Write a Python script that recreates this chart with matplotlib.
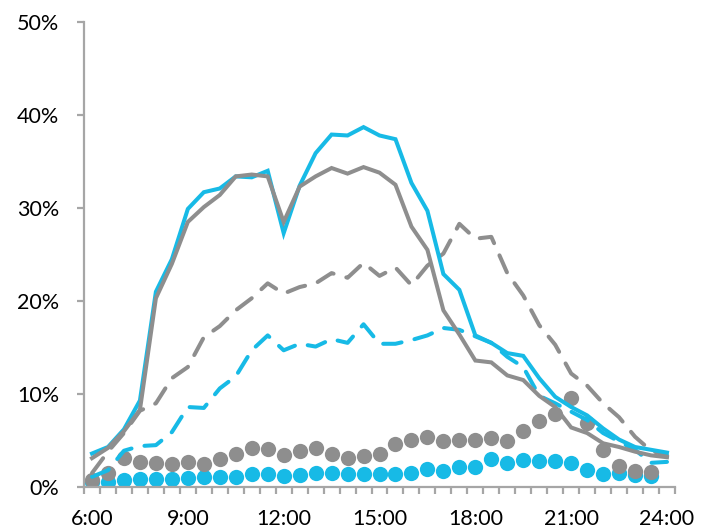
import numpy as np
import matplotlib
matplotlib.use("Agg")
import matplotlib.pyplot as plt

plt.rcParams['font.family'] = ['Lato', 'DejaVu Sans']

# half-hour slots 6:00 .. 24:00
slots = np.arange(37)
tick_pos = [0, 6, 12, 18, 24, 30, 36]
tick_labels = ['6:00', '9:00', '12:00', '15:00', '18:00', '21:00', '24:00']

blue_solid = [3.6, 4.3, 6.2, 9.3, 21.0, 24.5, 29.9, 31.7, 32.1, 33.4, 33.3, 34.0, 27.3,
              32.4, 35.9, 37.9, 37.8, 38.7, 37.8, 37.4, 32.7, 29.7, 22.9, 21.2, 16.3,
              15.5, 14.4, 14.1, 11.7, 9.7, 8.6, 7.7, 6.3, 5.1, 4.3, 4.0, 3.7]
gray_solid = [3.1, 4.2, 6.0, 8.3, 20.3, 24.0, 28.5, 30.1, 31.4, 33.4, 33.6, 33.4, 28.5,
              32.3, 33.4, 34.3, 33.7, 34.4, 33.8, 32.5, 28.0, 25.5, 19.0, 16.4, 13.6,
              13.4, 12.0, 11.5, 9.8, 8.6, 6.4, 5.8, 4.7, 4.3, 3.8, 3.4, 3.2]
gray_dash = [1.5, 3.8, 5.8, 8.2, 9.0, 11.7, 12.9, 16.1, 17.3, 19.0, 20.3, 21.9, 20.8,
             21.5, 21.9, 23.0, 22.5, 24.1, 22.7, 23.6, 21.7, 23.8, 25.1, 28.3, 26.7,
             26.9, 23.0, 20.6, 17.4, 15.3, 12.2, 10.9, 9.0, 7.5, 5.4, 3.9, 3.4]
blue_dash = [1.1, 1.8, 3.9, 4.4, 4.5, 5.9, 8.6, 8.5, 10.6, 11.9, 14.7, 16.3, 14.7,
             15.4, 15.1, 15.9, 15.5, 17.5, 15.4, 15.4, 15.8, 16.3, 17.1, 16.9, 16.2,
             15.5, 14.0, 12.9, 9.8, 9.0, 8.1, 7.2, 5.8, 4.9, 4.0, 2.6, 2.7]
gray_dots = [0.7, 1.5, 3.1, 2.7, 2.6, 2.5, 2.7, 2.5, 3.0, 3.5, 4.2, 4.1, 3.4, 3.9, 4.2,
             3.6, 3.1, 3.3, 3.6, 4.6, 5.0, 5.4, 4.9, 5.1, 5.0, 5.3, 4.9, 6.0, 7.1, 7.9,
             9.6, 6.9, 4.0, 2.3, 1.7, 1.6, np.nan]
blue_dots = [0.5, 0.5, 0.7, 0.9, 0.9, 0.9, 1.0, 1.1, 1.1, 1.1, 1.4, 1.4, 1.2, 1.3, 1.5,
             1.5, 1.4, 1.4, 1.4, 1.4, 1.5, 1.9, 1.7, 2.2, 2.2, 3.0, 2.6, 2.9, 2.8, 2.8,
             2.6, 1.8, 1.4, 1.5, 1.3, 1.2, np.nan]

blue = '#17BAE6'
gray = '#8E8E8E'
lw = 2.9

fig = plt.figure(figsize=(7.02, 5.32), dpi=100)
ax = fig.add_axes([0.1197, 0.0846, 0.8418, 0.874])

ax.plot(slots, blue_dots, ls='none', marker='o', ms=11, color=blue, mew=0)
ax.plot(slots, gray_dots, ls='none', marker='o', ms=11, color=gray, mew=0)
ax.plot(slots, blue_dash, color=blue, lw=lw, dashes=(4.6, 3.3), dash_capstyle='round')
ax.plot(slots, gray_dash, color=gray, lw=lw, dashes=(4.6, 3.3), dash_capstyle='round')
ax.plot(slots, blue_solid, color=blue, lw=lw, solid_joinstyle='miter')
ax.plot(slots, gray_solid, color=gray, lw=lw, solid_joinstyle='miter')

ax.set_xlim(-0.5, 36.5)
ax.set_ylim(0, 50)
ax.set_yticks(np.arange(0, 51, 10))
ax.set_yticklabels([f'{v}%' for v in range(0, 51, 10)])
ax.set_xticks(tick_pos)
ax.set_xticklabels(tick_labels)
ax.set_xticks(np.arange(-0.5, 37, 1), minor=True)

for s in ['top', 'right']:
    ax.spines[s].set_visible(False)
for s in ['left', 'bottom']:
    ax.spines[s].set_color('#A6A6A6')
    ax.spines[s].set_linewidth(1.6)

ax.tick_params(axis='x', which='major', length=0, pad=16, labelsize=15.5)
ax.tick_params(axis='x', which='minor', length=5, width=1.6, color='#A6A6A6')
ax.tick_params(axis='y', length=5, width=1.6, color='#A6A6A6', pad=13, labelsize=15.5)

fig.savefig('out.png', dpi=100)
